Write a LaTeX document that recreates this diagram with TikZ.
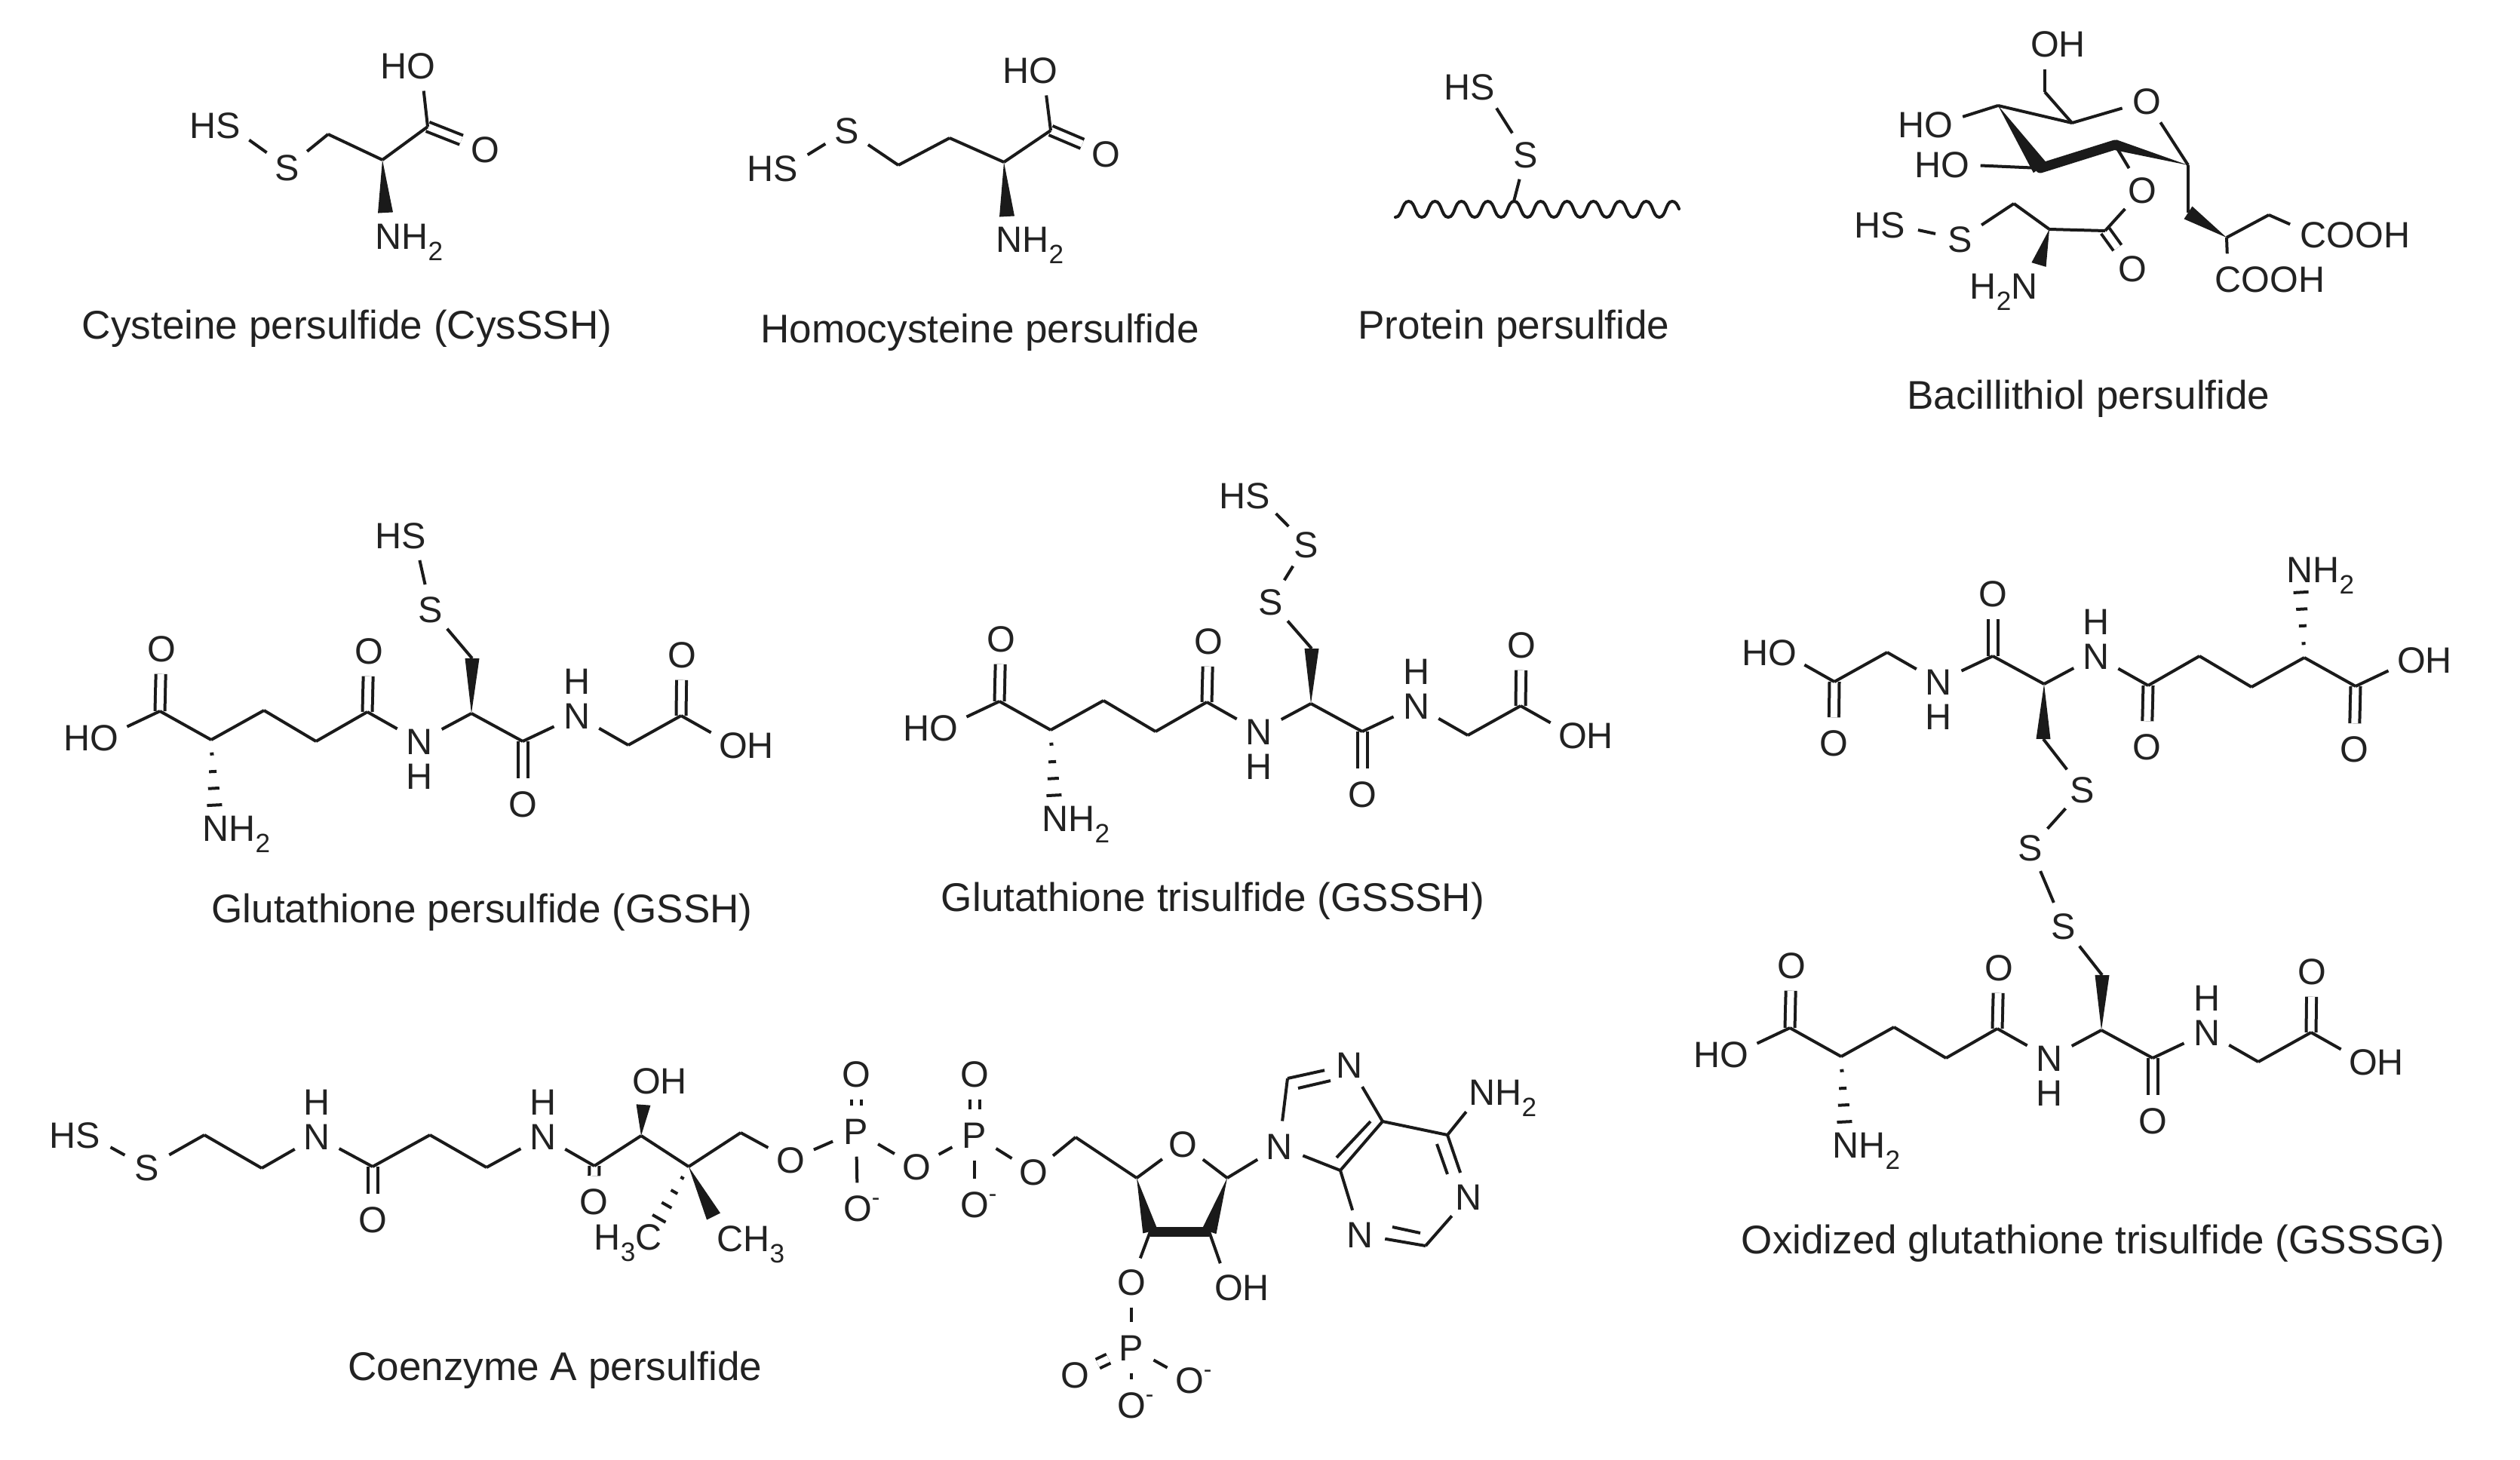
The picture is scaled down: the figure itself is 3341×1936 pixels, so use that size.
\documentclass[tikz,border=0pt]{standalone}
\usepackage{fontspec}
\usetikzlibrary{calc}
\setmainfont{Liberation Sans}
\definecolor{ink}{HTML}{1A1A1A}
\definecolor{txt}{HTML}{222222}
\newcommand{\subs}[1]{\raisebox{-.32em}{\fontsize{10}{10}\selectfont #1}}
\newcommand{\minuscharge}{\rlap{\raisebox{.42em}{\fontsize{9}{9}\selectfont -}}}
\tikzset{
  atom/.style={circle,inner sep=0pt,minimum size=.66cm,text height=.345cm,text depth=0pt,
    align=center,text=txt,font=\fontsize{13.8}{13.8}\selectfont},
  hatom/.style={atom,minimum size=.4cm},
  caption/.style={inner sep=0pt,yshift=-.06cm,text=txt,font=\fontsize{15.1}{15.1}\selectfont},
  bond/.style={draw=ink,line width=.04cm},
  dbond/.style={draw=ink,line width=.04cm,double=white,double distance=.09cm},
  bold/.style={draw=ink,line width=.13cm},
}
% wedge: #1 tip, #2 wide end, #3 half-width
\newcommand{\wedgebond}[3]{\fill[ink] (#1) -- ($(#2)!#3!90:(#1)$) -- ($(#2)!#3!-90:(#1)$) -- cycle;}
% hashed bond: #1 start, #2 end
\newcommand{\hashbond}[2]{\foreach \f/\w in {.16/.025cm,.36/.05cm,.55/.075cm,.74/.10cm}{
  \draw[bond] ($(#1)!\f!(#2)!\w!90:(#2)$) -- ($(#1)!\f!(#2)!\w!-90:(#2)$);}}
% glutathione backbone: #1 prefix, #2 label of glutamate OH, #3 label of glycine OH
\newcommand{\gluta}[3]{
  \coordinate (#1c1) at (212,943);
  \coordinate (#1ca) at (280,981);
  \coordinate (#1cb) at (350,942);
  \coordinate (#1cg) at (419,983);
  \coordinate (#1c5) at (487,944);
  \coordinate (#1da) at (625,946);
  \coordinate (#1db) at (626,873);
  \coordinate (#1c7) at (693,983);
  \coordinate (#1c9) at (833,988);
  \coordinate (#1c10) at (903,949);
  \node[atom] (#1o1) at (214,860) {O};
  \node[atom] (#1oh1) at (138,978) {#2};
  \node[atom] (#1o5) at (489,863) {O};
  \node[atom] (#1n1) at (556,983) {N};
  \node[hatom] (#1h1) at (556,1029) {H};
  \node[atom] (#1o7) at (693,1066) {O};
  \node[atom] (#1n2) at (765,949) {N};
  \node[hatom] (#1h2) at (765,903) {H};
  \node[atom] (#1o10) at (904,868) {O};
  \node[atom] (#1oh2) at (972,988) {#3};
  \node[atom] (#1nh) at (286,1098) {N\rlap{H\subs{2}}};
  \draw[dbond] (#1c1) -- (#1o1);
  \draw[dbond] (#1c5) -- (#1o5);
  \draw[dbond] (#1c7) -- (#1o7);
  \draw[dbond] (#1c10) -- (#1o10);
  \draw[bond] (#1oh1) -- (#1c1);
  \draw[bond] (#1c1) -- (#1ca);
  \draw[bond] (#1ca) -- (#1cb);
  \draw[bond] (#1cb) -- (#1cg);
  \draw[bond] (#1cg) -- (#1c5);
  \draw[bond] (#1c5) -- (#1n1);
  \draw[bond] (#1n1) -- (#1da);
  \draw[bond] (#1da) -- (#1c7);
  \draw[bond] (#1c7) -- (#1n2);
  \draw[bond] (#1n2) -- (#1c9);
  \draw[bond] (#1c9) -- (#1c10);
  \draw[bond] (#1c10) -- (#1oh2);
  \wedgebond{#1da}{#1db}{.095cm}
  \hashbond{#1ca}{#1nh}
}
\begin{document}
\begin{tikzpicture}[x=.01cm,y=-.01cm]
\useasboundingbox (0,0) rectangle (3341,1936);
\fill[white] (0,0) rectangle (3341,1936);

%% Cysteine persulfide
\node[atom] (cHS) at (303,166) {\llap{H}S};
\node[atom] (cS) at (381,222) {S};
\coordinate (cCb) at (435,178);
\coordinate (cCa) at (507,212);
\coordinate (cC) at (567,168);
\node[atom] (cO) at (643,198) {O};
\node[atom] (cOH) at (558,87) {\llap{H}O};
\node[atom] (cN) at (515,313) {N\rlap{H\subs{2}}};
\coordinate (cW) at (511,282);
\draw[dbond] (cC) -- (cO);
\draw[bond] (cHS) -- (cS);
\draw[bond] (cS) -- (cCb);
\draw[bond] (cCb) -- (cCa);
\draw[bond] (cCa) -- (cC);
\draw[bond] (cC) -- (cOH);
\wedgebond{cCa}{cW}{.10cm}
\node[caption] (cLab) at (460,430) {Cysteine persulfide (CysSSH)};

%% Homocysteine persulfide
\node[atom] (hHS) at (1042,223) {\llap{H}S};
\node[atom] (hS) at (1123,173) {S};
\coordinate (hC1) at (1191,219);
\coordinate (hC2) at (1259,183);
\coordinate (hCa) at (1331,215);
\coordinate (hC) at (1393,173);
\node[atom] (hO) at (1466,204) {O};
\node[atom] (hOH) at (1383,93) {\llap{H}O};
\node[atom] (hN) at (1338,317) {N\rlap{H\subs{2}}};
\coordinate (hW) at (1335,287);
\draw[dbond] (hC) -- (hO);
\draw[bond] (hHS) -- (hS);
\draw[bond] (hS) -- (hC1);
\draw[bond] (hC1) -- (hC2);
\draw[bond] (hC2) -- (hCa);
\draw[bond] (hCa) -- (hC);
\draw[bond] (hC) -- (hOH);
\wedgebond{hCa}{hW}{.10cm}
\node[caption] (hLab) at (1299,435) {Homocysteine persulfide};

%% Protein persulfide
\node[atom] (pHS) at (1966,115) {\llap{H}S};
\node[atom] (pS) at (2023,205) {S};
\coordinate (pJ) at (2007,267);
\coordinate (pW0) at (1850,288);
\draw[bond] (pHS) -- (pS);
\draw[bond] (pS) -- (pJ);
\draw[bond,line cap=round] (pW0)
  \foreach \i in {0,...,9}{
    .. controls ({1850+35*\i+9.5},288) and ({1850+35*\i+8},267) .. ({1850+35*\i+17.5},267)
    .. controls ({1850+35*\i+27},267) and ({1850+35*\i+25.5},288) .. ({1850+35*\i+35},288)
  }
  .. controls (2209,288) and (2208,267) .. (2217,267)
  .. controls (2221,267) and (2224,271) .. (2226,277);
\node[caption] (pLab) at (2007,430) {Protein persulfide};

%% Bacillithiol persulfide
\node[atom] (bOH1) at (2711,58) {O\rlap{H}};
\coordinate (bC6) at (2711,122);
\coordinate (bC5) at (2747,163);
\node[atom] (bO5) at (2846,134) {O};
\coordinate (bC1) at (2901,219);
\coordinate (bC4) at (2649,140);
\node[atom] (bOH4) at (2570,165) {\llap{H}O};
\coordinate (bC3) at (2705,223);
\node[atom] (bOH3) at (2592,218) {\llap{H}O};
\coordinate (bC2) at (2804,192);
\node[atom] (bOe) at (2840,252) {O};
\coordinate (bCe) at (2791,306);
\node[atom] (bOd) at (2827,356) {O};
\coordinate (bCa) at (2717,304);
\coordinate (bCb) at (2670,270);
\node[atom] (bS) at (2599,317) {S};
\node[atom] (bHS) at (2510,298) {\llap{H}S};
\node[atom] (bN) at (2684,379) {\llap{H\subs{2}}N};
\coordinate (bW) at (2703,351);
\coordinate (bCm) at (2901,282);
\coordinate (bCh) at (2952,315);
\coordinate (bCn) at (3008,285);
\node[atom] (bCOOHa) at (3067,311) {C\rlap{OOH}};
\node[atom] (bCOOHb) at (2954,370) {C\rlap{OOH}};
\draw[dbond] (bCe) -- (bOd);
\draw[bond] (bOH1) -- (bC6);
\draw[bond] (bC6) -- (bC5);
\draw[bond] (bC5) -- (bO5);
\draw[bond] (bO5) -- (bC1);
\draw[bond] (bC5) -- (bC4);
\draw[bond] (bC4) -- (bOH4);
\draw[bond] (bOH3) -- (bC3);
\draw[bold,line cap=round] (bC3) -- (bC2);
\wedgebond{bC4}{bC3}{.11cm}
\wedgebond{bC1}{bC2}{.07cm}
\draw[bond] (bC2) -- (bOe);
\draw[bond] (bOe) -- (bCe);
\draw[bond] (bCe) -- (bCa);
\draw[bond] (bCa) -- (bCb);
\draw[bond] (bCb) -- (bS);
\draw[bond] (bS) -- (bHS);
\wedgebond{bCa}{bW}{.10cm}
\draw[bond] (bC1) -- (bCm);
\wedgebond{bCh}{bCm}{.10cm}
\draw[bond] (bCh) -- (bCn);
\draw[bond] (bCn) -- (bCOOHa);
\draw[bond] (bCh) -- (bCOOHb);
\node[caption] (bLab) at (2769,523) {Bacillithiol persulfide};

%% Glutathione persulfide
\gluta{a}{\llap{H}O}{O\rlap{H}}
\node[atom] (aS) at (571,808) {S};
\node[atom] (aHS) at (549,710) {\llap{H}S};
\draw[bond] (adb) -- (aS);
\draw[bond] (aS) -- (aHS);
\node[caption] (aLab) at (639,1204) {Glutathione persulfide (GSSH)};

%% Glutathione trisulfide
\begin{scope}[shift={(1113,-13)}]
\gluta{t}{\llap{H}O}{O\rlap{H}}
\end{scope}
\node[atom] (tS1) at (1685,798) {S};
\node[atom] (tS2) at (1732,722) {S};
\node[atom] (tHS) at (1668,657) {\llap{H}S};
\draw[bond] (tdb) -- (tS1);
\draw[bond] (tS1) -- (tS2);
\draw[bond] (tS2) -- (tHS);
\node[caption] (tLab) at (1608,1189) {Glutathione trisulfide (GSSSH)};

%% Oxidized glutathione trisulfide
\begin{scope}[shift={(3335,1853)},xscale=-1,yscale=-1]
\gluta{u}{O\rlap{H}}{\llap{H}O}
\end{scope}
\begin{scope}[shift={(2161,420)}]
\gluta{l}{\llap{H}O}{O\rlap{H}}
\end{scope}
\node[atom] (gS1) at (2761,1047) {S};
\node[atom] (gS2) at (2692,1124) {S};
\node[atom] (gS3) at (2736,1228) {S};
\draw[bond] (udb) -- (gS1);
\draw[bond] (gS1) -- (gS2);
\draw[bond] (gS2) -- (gS3);
\draw[bond] (gS3) -- (ldb);
\node[caption] (gLab) at (2775,1643) {Oxidized glutathione trisulfide (GSSSG)};

%% Coenzyme A persulfide
\node[atom] (kHS) at (117,1505) {\llap{H}S};
\node[atom] (kS) at (195,1548) {S};
\coordinate (kC1) at (271,1505);
\coordinate (kC2) at (347,1549);
\node[atom] (kN1) at (420,1507) {N};
\node[hatom] (kH1) at (420,1461) {H};
\coordinate (kC3) at (494,1547);
\node[atom] (kO3) at (494,1617) {O};
\coordinate (kC4) at (570,1505);
\coordinate (kC5) at (645,1548);
\node[atom] (kN2) at (720,1507) {N};
\node[hatom] (kH2) at (720,1461) {H};
\coordinate (kC6) at (788,1546);
\node[atom] (kO6) at (787,1593) {O};
\coordinate (kC7) at (850,1506);
\node[atom] (kOH) at (857,1433) {O\rlap{H}};
\coordinate (kW) at (853,1465);
\coordinate (kC8) at (913,1547);
\coordinate (kC9) at (982,1502);
\node[atom] (kOa) at (1048,1538) {O};
\node[atom] (kMe1) at (968,1642) {C\rlap{H\subs{3}}};
\coordinate (kW2) at (946,1613);
\node[atom] (kMe2) at (860,1640) {\llap{H\subs{3}}C};
\node[atom] (kP1) at (1135,1500) {P};
\node[atom] (kP1o) at (1135,1424) {O};
\node[atom] (kP1m) at (1137,1602) {O\minuscharge};
\node[atom] (kOb) at (1215,1547) {O};
\node[atom] (kP2) at (1292,1505) {P};
\node[atom] (kP2o) at (1292,1424) {O};
\node[atom] (kP2m) at (1292,1597) {O\minuscharge};
\node[atom] (kOc) at (1370,1554) {O};
\coordinate (kC5p) at (1426,1508);
\coordinate (kC4p) at (1507,1562);
\node[atom] (kOr) at (1568,1517) {O};
\coordinate (kC1p) at (1627,1562);
\coordinate (kC3p) at (1525,1633);
\coordinate (kC2p) at (1603,1633);
\node[atom] (kO3p) at (1500,1700) {O};
\node[atom] (kO2p) at (1629,1707) {O\rlap{H}};
\node[atom] (kP3) at (1500,1787) {P};
\node[atom] (kP3o) at (1425,1823) {O};
\node[atom] (kP3m) at (1577,1830) {O\minuscharge};
\node[atom] (kP3n) at (1500,1863) {O\minuscharge};
\node[atom] (kN9) at (1696,1520) {N};
\coordinate (kC8a) at (1707,1430);
\node[atom] (kN7) at (1789,1412) {N};
\coordinate (kC5a) at (1833,1487);
\coordinate (kC4a) at (1777,1552);
\coordinate (kC6a) at (1919,1505);
\node[atom] (kNH) at (1965,1448) {N\rlap{H\subs{2}}};
\node[atom] (kN1a) at (1947,1587) {N};
\coordinate (kC2a) at (1890,1652);
\node[atom] (kN3) at (1803,1637) {N};
\coordinate (kI1) at (1721,1443);
\coordinate (kI2) at (1764,1433);
\coordinate (kI3) at (1817,1487);
\coordinate (kI4) at (1772,1535);
\coordinate (kI5) at (1905,1517);
\coordinate (kI6) at (1919,1557);
\coordinate (kI7) at (1883,1635);
\coordinate (kI8) at (1846,1627);
\draw[dbond] (kC3) -- (kO3);
\draw[dbond] (kC6) -- (kO6);
\draw[dbond] (kP1) -- (kP1o);
\draw[dbond] (kP2) -- (kP2o);
\draw[dbond] (kP3) -- (kP3o);
\draw[bond] (kHS) -- (kS);
\draw[bond] (kS) -- (kC1);
\draw[bond] (kC1) -- (kC2);
\draw[bond] (kC2) -- (kN1);
\draw[bond] (kN1) -- (kC3);
\draw[bond] (kC3) -- (kC4);
\draw[bond] (kC4) -- (kC5);
\draw[bond] (kC5) -- (kN2);
\draw[bond] (kN2) -- (kC6);
\draw[bond] (kC6) -- (kC7);
\draw[bond] (kC7) -- (kC8);
\draw[bond] (kC8) -- (kC9);
\draw[bond] (kC9) -- (kOa);
\draw[bond] (kOa) -- (kP1);
\draw[bond] (kP1) -- (kP1m);
\draw[bond] (kP1) -- (kOb);
\draw[bond] (kOb) -- (kP2);
\draw[bond] (kP2) -- (kP2m);
\draw[bond] (kP2) -- (kOc);
\draw[bond] (kOc) -- (kC5p);
\draw[bond] (kC5p) -- (kC4p);
\draw[bond] (kC4p) -- (kOr);
\draw[bond] (kOr) -- (kC1p);
\draw[bond] (kC1p) -- (kN9);
\draw[bond] (kC3p) -- (kO3p);
\draw[bond] (kC2p) -- (kO2p);
\draw[bond] (kO3p) -- (kP3);
\draw[bond] (kP3) -- (kP3m);
\draw[bond] (kP3) -- (kP3n);
\draw[bold] (kC3p) -- (kC2p);
\wedgebond{kC4p}{kC3p}{.10cm}
\wedgebond{kC1p}{kC2p}{.10cm}
\wedgebond{kC7}{kW}{.095cm}
\wedgebond{kC8}{kW2}{.10cm}
\hashbond{kC8}{kMe2}
\draw[bond] (kN9) -- (kC8a);
\draw[bond] (kC8a) -- (kN7);
\draw[bond] (kI1) -- (kI2);
\draw[bond] (kN7) -- (kC5a);
\draw[bond] (kC5a) -- (kC4a);
\draw[bond] (kI3) -- (kI4);
\draw[bond] (kC4a) -- (kN9);
\draw[bond] (kC5a) -- (kC6a);
\draw[bond] (kC6a) -- (kNH);
\draw[bond] (kC6a) -- (kN1a);
\draw[bond] (kI5) -- (kI6);
\draw[bond] (kN1a) -- (kC2a);
\draw[bond] (kC2a) -- (kN3);
\draw[bond] (kI7) -- (kI8);
\draw[bond] (kN3) -- (kC4a);
\node[caption] (kLab) at (736,1811) {Coenzyme A persulfide};
\end{tikzpicture}
\end{document}
